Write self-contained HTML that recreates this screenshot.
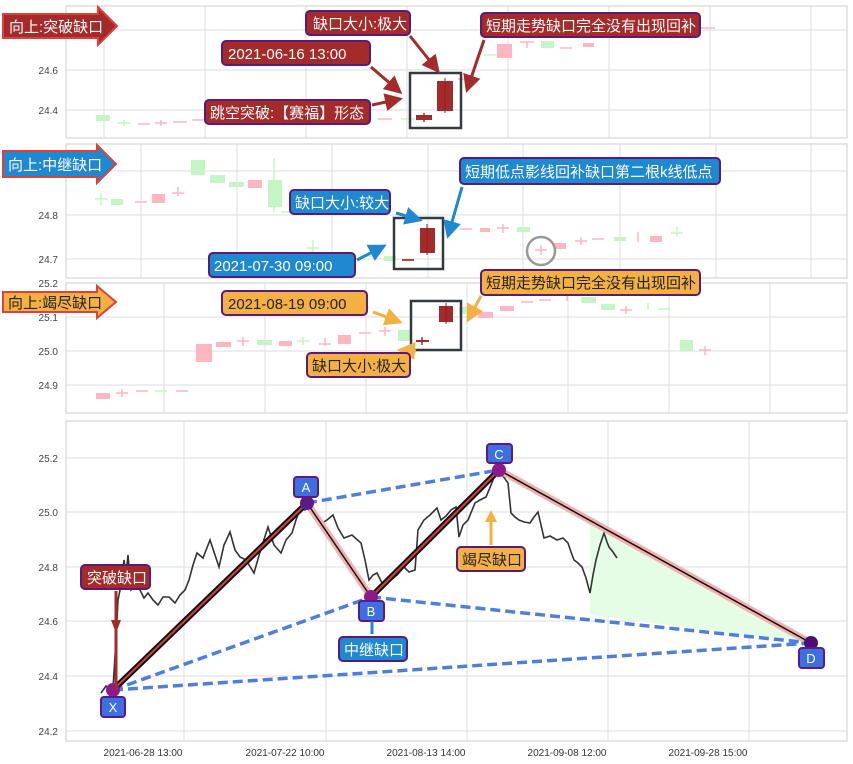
<!DOCTYPE html>
<html><head><meta charset="utf-8"><style>
html,body{margin:0;padding:0;background:#fff;}
svg{display:block;font-family:"Liberation Sans","Noto Sans CJK SC",sans-serif;}
</style></head><body>
<svg width="853" height="764" viewBox="0 0 853 764" xmlns="http://www.w3.org/2000/svg">
<defs>
<marker id="mr" markerWidth="6" markerHeight="6" refX="5" refY="3" orient="auto"><path d="M0,0 L6,3 L0,6 z" fill="#a52a2a"/></marker>
<marker id="mb" markerWidth="6" markerHeight="6" refX="5" refY="3" orient="auto"><path d="M0,0 L6,3 L0,6 z" fill="#1e88d0"/></marker>
<marker id="mo" markerWidth="6" markerHeight="6" refX="5" refY="3" orient="auto"><path d="M0,0 L6,3 L0,6 z" fill="#f4b040"/></marker>
</defs>
<rect width="853" height="764" fill="#fff"/>

<!-- ===== Panel 1 ===== -->
<g stroke="#ddd" stroke-width="1">
<rect x="66" y="6" width="781" height="132" fill="#fff" stroke="#ccc"/>
<line x1="66" y1="30" x2="847" y2="30"/><line x1="66" y1="70" x2="847" y2="70"/><line x1="66" y1="110" x2="847" y2="110"/>
<line x1="104" y1="6" x2="104" y2="138"/><line x1="205" y1="6" x2="205" y2="138"/><line x1="306" y1="6" x2="306" y2="138"/><line x1="407" y1="6" x2="407" y2="138"/><line x1="508" y1="6" x2="508" y2="138"/><line x1="609" y1="6" x2="609" y2="138"/><line x1="710" y1="6" x2="710" y2="138"/><line x1="811" y1="6" x2="811" y2="138"/>
</g>
<g font-size="10" fill="#444" text-anchor="end"><text x="58" y="74">24.6</text><text x="58" y="114">24.4</text></g>
<g stroke-width="1.5">
<rect x="96" y="115" width="14" height="6" fill="#c4f5c4"/>
<g stroke="#c4f5c4"><line x1="117" y1="123" x2="131" y2="123"/><line x1="124" y1="120" x2="124" y2="126"/><line x1="401" y1="119" x2="415" y2="119"/></g>
<g stroke="#ffb6c1"><line x1="138" y1="124" x2="150" y2="124"/><line x1="155" y1="123" x2="167" y2="123"/><line x1="161" y1="120" x2="161" y2="126"/><line x1="173" y1="122" x2="187" y2="122"/><line x1="192" y1="120" x2="206" y2="120"/><line x1="378" y1="119" x2="392" y2="119"/><line x1="458" y1="79" x2="472" y2="79"/><line x1="520" y1="42" x2="534" y2="42"/><line x1="527" y1="42" x2="527" y2="48"/><line x1="560" y1="48" x2="572" y2="48"/><line x1="701" y1="28" x2="715" y2="28"/></g>
<g stroke="#c4f5c4"><line x1="484" y1="55" x2="496" y2="55"/></g>
<rect x="497" y="44" width="15" height="14" fill="#ffb6c1"/>
<rect x="541" y="41" width="13" height="7" fill="#c4f5c4"/>
<rect x="583" y="43" width="11" height="4" fill="#ffb6c1"/>
</g>
<rect x="416" y="115" width="16" height="5" fill="#a52a2a"/><line x1="424" y1="113" x2="424" y2="122" stroke="#a52a2a" stroke-width="1.5"/>
<rect x="437" y="81" width="16" height="30" fill="#a52a2a"/><line x1="445" y1="78" x2="445" y2="113" stroke="#8a1f1f" stroke-width="1"/>
<rect x="410" y="73" width="51" height="55" fill="none" stroke="#333a40" stroke-width="2.5"/>
<g stroke="#a52a2a" stroke-width="3" fill="none" marker-end="url(#mr)">
<line x1="410" y1="36" x2="438" y2="71"/>
<line x1="371" y1="67" x2="400" y2="92"/>
<line x1="372" y1="105" x2="400" y2="99"/>
<line x1="484" y1="40" x2="467" y2="90"/>
</g>
<path d="M3,14 H98 V7 L117,26 L98,45 V38 H3 Z" fill="#a52a2a" stroke="#e0403a" stroke-width="2"/>
<text x="9" y="32" font-size="15" fill="#fff">向上:突破缺口</text>
<g font-size="15" fill="#fff">
<rect x="306" y="11" width="104" height="24" rx="4" fill="#a52a2a" stroke="#5a1a7a" stroke-width="2"/><text x="313" y="29">缺口大小:极大</text>
<rect x="222" y="41" width="148" height="24" rx="4" fill="#a52a2a" stroke="#5a1a7a" stroke-width="2"/><text x="228" y="59">2021-06-16 13:00</text>
<rect x="205" y="100" width="165" height="24" rx="4" fill="#a52a2a" stroke="#5a1a7a" stroke-width="2"/><text x="210" y="118">跳空突破:【赛福】形态</text>
<rect x="481" y="13" width="219" height="24" rx="4" fill="#a52a2a" stroke="#5a1a7a" stroke-width="2"/><text x="486" y="31">短期走势缺口完全没有出现回补</text>
</g>

<!-- ===== Panel 2 ===== -->
<g stroke="#ddd" stroke-width="1">
<rect x="66" y="144" width="781" height="134" fill="#fff" stroke="#ccc"/>
<line x1="66" y1="171" x2="847" y2="171"/><line x1="66" y1="215" x2="847" y2="215"/><line x1="66" y1="259" x2="847" y2="259"/>
<line x1="141" y1="144" x2="141" y2="278"/><line x1="237" y1="144" x2="237" y2="278"/><line x1="332" y1="144" x2="332" y2="278"/><line x1="428" y1="144" x2="428" y2="278"/><line x1="523" y1="144" x2="523" y2="278"/><line x1="620" y1="144" x2="620" y2="278"/><line x1="716" y1="144" x2="716" y2="278"/><line x1="811" y1="144" x2="811" y2="278"/>
</g>
<g font-size="10" fill="#444" text-anchor="end"><text x="58" y="219">24.8</text><text x="58" y="263">24.7</text></g>
<g stroke-width="1.5">
<g stroke="#c4f5c4"><line x1="95" y1="199" x2="108" y2="199"/><line x1="101" y1="193" x2="101" y2="205"/><line x1="281" y1="212" x2="294" y2="212"/><line x1="307" y1="248" x2="319" y2="248"/><line x1="313" y1="240" x2="313" y2="252"/><line x1="361" y1="256" x2="373" y2="256"/><line x1="671" y1="233" x2="683" y2="233"/><line x1="677" y1="227" x2="677" y2="236"/><line x1="274" y1="158" x2="274" y2="212"/></g>
<g stroke="#ffb6c1"><line x1="135" y1="202" x2="147" y2="202"/><line x1="172" y1="193" x2="184" y2="193"/><line x1="178" y1="187" x2="178" y2="196"/><line x1="460" y1="229" x2="472" y2="229"/><line x1="497" y1="228" x2="509" y2="228"/><line x1="503" y1="224" x2="503" y2="233"/><line x1="535" y1="250" x2="547" y2="250"/><line x1="541" y1="245" x2="541" y2="255"/><line x1="575" y1="241" x2="587" y2="241"/><line x1="581" y1="237" x2="581" y2="245"/><line x1="592" y1="239" x2="604" y2="239"/><line x1="638" y1="232" x2="638" y2="242"/></g>
<rect x="111" y="199" width="12" height="6" fill="#c4f5c4"/>
<rect x="152" y="194" width="13" height="9" fill="#ffb6c1"/>
<rect x="191" y="160" width="14" height="15" fill="#c4f5c4"/>
<rect x="210" y="175" width="15" height="8" fill="#c4f5c4"/>
<rect x="229" y="182" width="15" height="5" fill="#c4f5c4"/>
<rect x="248" y="180" width="14" height="8" fill="#ffb6c1"/>
<rect x="268" y="180" width="14" height="27" fill="#c4f5c4"/>
<rect x="384" y="256" width="12" height="5" fill="#c4f5c4"/>
<rect x="480" y="228" width="10" height="4" fill="#ffb6c1"/>
<rect x="517" y="227" width="13" height="5" fill="#c4f5c4"/>
<rect x="554" y="243" width="12" height="6" fill="#ffb6c1"/>
<rect x="614" y="237" width="12" height="4" fill="#c4f5c4"/>
<rect x="650" y="236" width="12" height="6" fill="#ffb6c1"/>
</g>
<line x1="402" y1="260" x2="414" y2="260" stroke="#a0522d" stroke-width="2"/>
<rect x="420" y="228" width="15" height="25" fill="#a52a2a"/><line x1="427" y1="224" x2="427" y2="255" stroke="#8a1f1f" stroke-width="1"/>
<rect x="394" y="218" width="49" height="51" fill="none" stroke="#333a40" stroke-width="2.5"/>
<circle cx="541" cy="251" r="14" fill="none" stroke="#999" stroke-width="2.5"/>
<g stroke="#1e88d0" stroke-width="3" fill="none" marker-end="url(#mb)">
<line x1="396" y1="213" x2="420" y2="220"/>
<line x1="357" y1="260" x2="384" y2="246"/>
<line x1="462" y1="187" x2="448" y2="236"/>
</g>
<path d="M3,151 H97 V145 L116,164 L97,183 V177 H3 Z" fill="#1e88d0" stroke="#e0403a" stroke-width="2"/>
<text x="8" y="170" font-size="15" fill="#fff">向上:中继缺口</text>
<g font-size="15" fill="#fff">
<rect x="460" y="158" width="260" height="26" rx="4" fill="#1e88d0" stroke="#5a1a7a" stroke-width="2"/><text x="465" y="177">短期低点影线回补缺口第二根k线低点</text>
<rect x="290" y="190" width="100" height="24" rx="4" fill="#1e88d0" stroke="#5a1a7a" stroke-width="2"/><text x="295" y="208">缺口大小:较大</text>
<rect x="209" y="253" width="146" height="24" rx="4" fill="#1e88d0" stroke="#5a1a7a" stroke-width="2"/><text x="214" y="271">2021-07-30 09:00</text>
</g>

<!-- ===== Panel 3 ===== -->
<g stroke="#ddd" stroke-width="1">
<rect x="66" y="283" width="781" height="130" fill="#fff" stroke="#ccc"/>
<line x1="66" y1="317" x2="847" y2="317"/><line x1="66" y1="351" x2="847" y2="351"/><line x1="66" y1="385" x2="847" y2="385"/>
<line x1="164" y1="283" x2="164" y2="413"/><line x1="265" y1="283" x2="265" y2="413"/><line x1="366" y1="283" x2="366" y2="413"/><line x1="467" y1="283" x2="467" y2="413"/><line x1="568" y1="283" x2="568" y2="413"/><line x1="669" y1="283" x2="669" y2="413"/><line x1="770" y1="283" x2="770" y2="413"/>
</g>
<g font-size="10" fill="#444" text-anchor="end"><text x="58" y="287">25.2</text><text x="58" y="321">25.1</text><text x="58" y="355">25.0</text><text x="58" y="389">24.9</text></g>
<g stroke-width="1.5">
<rect x="96" y="393" width="14" height="6" fill="#ffb6c1"/>
<g stroke="#ffb6c1"><line x1="116" y1="393" x2="128" y2="393"/><line x1="122" y1="389" x2="122" y2="397"/><line x1="136" y1="391" x2="148" y2="391"/><line x1="176" y1="391" x2="188" y2="391"/><line x1="237" y1="341" x2="249" y2="341"/><line x1="243" y1="337" x2="243" y2="346"/><line x1="319" y1="344" x2="331" y2="344"/><line x1="325" y1="338" x2="325" y2="346"/><line x1="359" y1="333" x2="371" y2="333"/><line x1="379" y1="331" x2="391" y2="331"/><line x1="385" y1="327" x2="385" y2="336"/><line x1="521" y1="302" x2="533" y2="302"/><line x1="539" y1="300" x2="551" y2="300"/><line x1="567" y1="292" x2="567" y2="301"/><line x1="620" y1="310" x2="632" y2="310"/><line x1="626" y1="306" x2="626" y2="314"/><line x1="699" y1="350" x2="711" y2="350"/><line x1="705" y1="346" x2="705" y2="355"/></g>
<g stroke="#c4f5c4"><line x1="155" y1="391" x2="167" y2="391"/><line x1="297" y1="341" x2="309" y2="341"/><line x1="303" y1="337" x2="303" y2="345"/><line x1="648" y1="303" x2="648" y2="310"/><line x1="658" y1="309" x2="670" y2="309"/></g>
<rect x="196" y="344" width="16" height="18" fill="#ffb6c1"/>
<rect x="216" y="342" width="15" height="5" fill="#ffb6c1"/>
<rect x="257" y="340" width="15" height="5" fill="#c4f5c4"/>
<rect x="279" y="341" width="13" height="5" fill="#ffb6c1"/>
<rect x="338" y="335" width="13" height="9" fill="#ffb6c1"/>
<rect x="398" y="330" width="13" height="11" fill="#c4f5c4"/>
<rect x="459" y="307" width="10" height="7" fill="#c4f5c4"/>
<rect x="478" y="312" width="15" height="6" fill="#ffb6c1"/>
<rect x="500" y="306" width="14" height="5" fill="#ffb6c1"/>
<rect x="581" y="297" width="15" height="6" fill="#c4f5c4"/>
<rect x="601" y="304" width="14" height="6" fill="#c4f5c4"/>
<rect x="680" y="340" width="13" height="11" fill="#c4f5c4"/>
</g>
<line x1="416" y1="341" x2="429" y2="341" stroke="#a52a2a" stroke-width="2"/><line x1="422" y1="337" x2="422" y2="345" stroke="#a52a2a" stroke-width="1.5"/>
<rect x="439" y="306" width="14" height="16" fill="#a52a2a"/><line x1="446" y1="303" x2="446" y2="324" stroke="#8a1f1f" stroke-width="1"/>
<rect x="411" y="301" width="50" height="49" fill="none" stroke="#333a40" stroke-width="2.5"/>
<g stroke="#f4b040" stroke-width="3" fill="none" marker-end="url(#mo)">
<line x1="373" y1="312" x2="400" y2="322"/>
<line x1="416" y1="351" x2="400" y2="350"/>
<line x1="481" y1="296" x2="468" y2="320"/>
</g>
<path d="M3,292 H97 V286 L116,302 L97,318 V312 H3 Z" fill="#f4b040" stroke="#e0403a" stroke-width="2"/>
<text x="8" y="308" font-size="15" fill="#222">向上:竭尽缺口</text>
<g font-size="15" fill="#222">
<rect x="481" y="270" width="219" height="25" rx="4" fill="#f4b040" stroke="#5a1a7a" stroke-width="2"/><text x="486" y="288">短期走势缺口完全没有出现回补</text>
<rect x="222" y="291" width="145" height="24" rx="4" fill="#f4b040" stroke="#5a1a7a" stroke-width="2"/><text x="228" y="309">2021-08-19 09:00</text>
<rect x="307" y="353" width="103" height="24" rx="4" fill="#f4b040" stroke="#5a1a7a" stroke-width="2"/><text x="312" y="371">缺口大小:极大</text>
</g>

<!-- ===== Panel 4 ===== -->
<g stroke="#ddd" stroke-width="1">
<rect x="66" y="421" width="781" height="320" fill="#fff" stroke="#ccc"/>
<line x1="66" y1="458" x2="847" y2="458"/><line x1="66" y1="512" x2="847" y2="512"/><line x1="66" y1="567" x2="847" y2="567"/><line x1="66" y1="621" x2="847" y2="621"/><line x1="66" y1="676" x2="847" y2="676"/><line x1="66" y1="731" x2="847" y2="731"/>
<line x1="184" y1="421" x2="184" y2="741"/><line x1="326" y1="421" x2="326" y2="741"/><line x1="467" y1="421" x2="467" y2="741"/><line x1="608" y1="421" x2="608" y2="741"/><line x1="749" y1="421" x2="749" y2="741"/>
</g>
<g font-size="10" fill="#444" text-anchor="end"><text x="58" y="462">25.2</text><text x="58" y="516">25.0</text><text x="58" y="571">24.8</text><text x="58" y="625">24.6</text><text x="58" y="680">24.4</text><text x="58" y="735">24.2</text></g>
<g font-size="10" fill="#333" text-anchor="middle"><text x="143" y="756">2021-06-28 13:00</text><text x="285" y="756">2021-07-22 10:00</text><text x="426" y="756">2021-08-13 14:00</text><text x="567" y="756">2021-09-08 12:00</text><text x="708" y="756">2021-09-28 15:00</text></g>
<polygon points="590,521 811,643 590,615" fill="#e4fde4"/>
<polyline fill="none" stroke="#333" stroke-width="1.6" points="101,693 106,686 110,690 113,688 116,640 118,600 121,585 124,560 126,575 128,555 131,590 136,585 140,590 144,598 148,593 153,600 158,605 163,597 169,597 175,603 180,595 185,590 189,580 193,565 197,553 203,558 210,540 215,555 219,567 224,545 230,532 235,550 240,557 246,560 254,573 260,552 268,527 274,545 281,553 286,540 292,533 296,520 301,507 305,510 309,503 315,512 322,523 327,520 333,515 338,528 344,538 352,535 361,543 365,560 369,580 373,575 377,573 383,585 391,580 397,575 404,567 409,572 415,570 418,530 424,520 430,515 437,508 441,520 446,516 451,510 456,507 459,537 463,525 468,520 475,503 480,500 486,497 489,490 493,480 497,470 503,476 508,483 511,513 515,517 519,520 524,522 530,523 534,517 538,512 541,525 544,538 550,536 557,540 563,538 568,543 571,552 574,560 578,563 582,567 586,578 590,593 593,575 596,560 600,545 604,533 607,542 609,547 613,552 617,558"/>
<line x1="307" y1="503" x2="371" y2="597" stroke="#f4b0b0" stroke-width="7"/>
<line x1="307" y1="503" x2="371" y2="597" stroke="#111" stroke-width="1.5"/>
<line x1="499" y1="470" x2="811" y2="643" stroke="#f4b0b0" stroke-width="7"/>
<line x1="499" y1="470" x2="811" y2="643" stroke="#111" stroke-width="1.5"/>
<g stroke="#4f7fdc" stroke-width="3.5" stroke-dasharray="10,5" fill="none">
<line x1="113" y1="690" x2="371" y2="597"/>
<line x1="371" y1="597" x2="811" y2="643"/>
<line x1="113" y1="690" x2="811" y2="643"/>
<line x1="307" y1="503" x2="499" y2="470"/>
</g>
<line x1="113" y1="690" x2="307" y2="503" stroke="#111" stroke-width="6"/>
<line x1="113" y1="690" x2="307" y2="503" stroke="#d04040" stroke-width="2"/>
<line x1="371" y1="597" x2="499" y2="470" stroke="#111" stroke-width="6"/>
<line x1="371" y1="597" x2="499" y2="470" stroke="#d04040" stroke-width="2"/>
<g fill="#8b1a8b"><circle cx="113" cy="690" r="7"/><circle cx="307" cy="503" r="7" fill="#5a1a8a"/><circle cx="371" cy="597" r="7"/><circle cx="499" cy="470" r="7"/><circle cx="811" cy="643" r="7" fill="#4a1070"/></g>
<g font-size="13" fill="#fff" text-anchor="middle">
<rect x="101" y="697" width="24" height="20" rx="3" fill="#3d6fe0" stroke="#5a1a8a" stroke-width="2"/><text x="113" y="712">X</text>
<rect x="294" y="477" width="24" height="20" rx="3" fill="#3d6fe0" stroke="#5a1a8a" stroke-width="2"/><text x="306" y="492">A</text>
<rect x="359" y="601" width="25" height="20" rx="3" fill="#3d6fe0" stroke="#5a1a8a" stroke-width="2"/><text x="371" y="616">B</text>
<rect x="487" y="444" width="25" height="19" rx="3" fill="#3d6fe0" stroke="#5a1a8a" stroke-width="2"/><text x="499" y="459">C</text>
<rect x="799" y="648" width="25" height="20" rx="3" fill="#3d6fe0" stroke="#5a1a8a" stroke-width="2"/><text x="811" y="663">D</text>
</g>
<line x1="116" y1="591" x2="116" y2="690" stroke="#a52a2a" stroke-width="3"/>
<path d="M111,620 L121,620 L116,633 Z" fill="#a52a2a"/>
<rect x="81" y="565" width="69" height="24" rx="4" fill="#a52a2a" stroke="#5a1a7a" stroke-width="2"/><text x="87" y="583" font-size="15" fill="#fff">突破缺口</text>
<line x1="372" y1="621" x2="372" y2="634" stroke="#1e88d0" stroke-width="3"/>
<rect x="339" y="637" width="68" height="24" rx="4" fill="#1e88d0" stroke="#5a1a7a" stroke-width="2"/><text x="344" y="655" font-size="15" fill="#fff">中继缺口</text>
<line x1="491" y1="545" x2="491" y2="518" stroke="#f4b040" stroke-width="3"/>
<path d="M485,522 L497,522 L491,510 Z" fill="#f4b040"/>
<rect x="457" y="547" width="68" height="24" rx="4" fill="#f4b040" stroke="#5a1a7a" stroke-width="2"/><text x="462" y="565" font-size="15" fill="#222">竭尽缺口</text>
</svg>
</body></html>
